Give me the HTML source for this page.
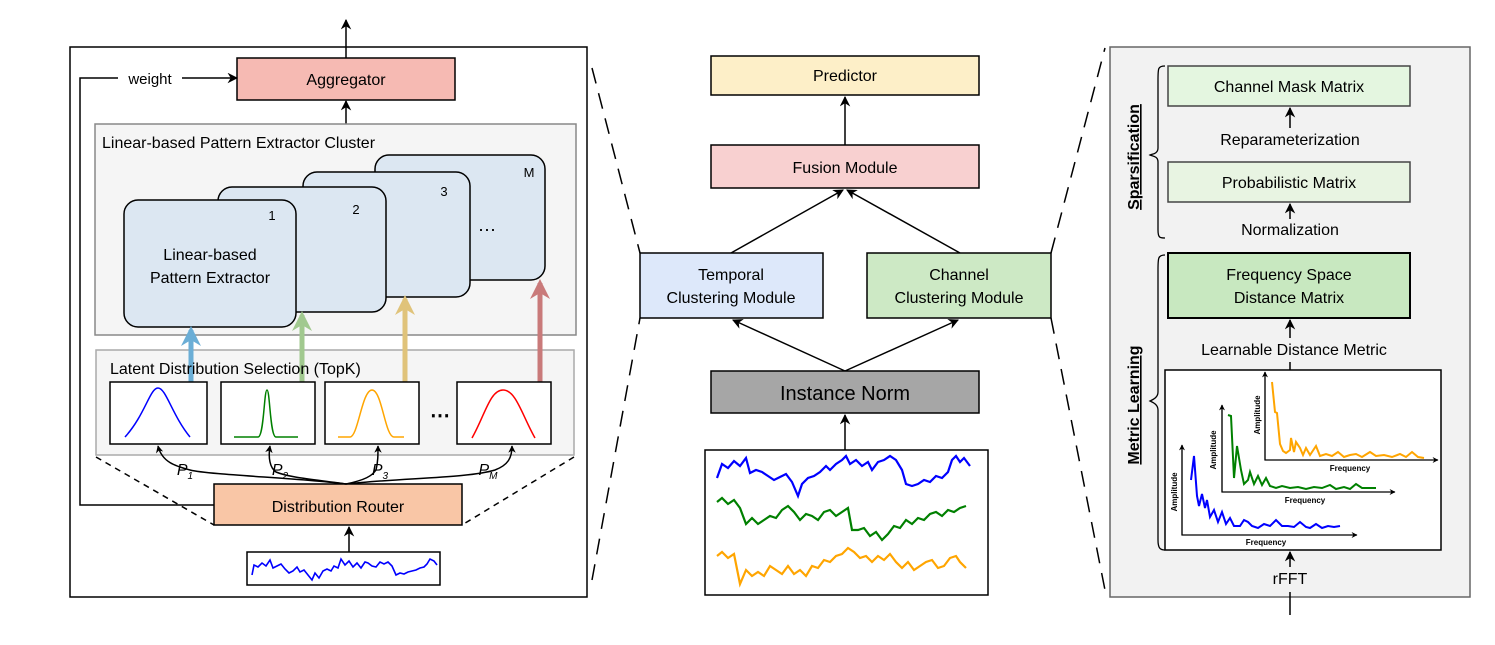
<!DOCTYPE html>
<html><head><style>body{margin:0;background:#fff}svg{display:block}text{font-family:"Liberation Sans",sans-serif}</style></head><body>
<svg width="1495" height="645" viewBox="0 0 1495 645" xmlns="http://www.w3.org/2000/svg">
<defs>
<marker id="a" viewBox="0 0 10 10" refX="9" refY="5" markerWidth="7" markerHeight="7" orient="auto-start-reverse"><path d="M0,0 L10,5 L0,10 L3,5z" fill="#000"/></marker>
<marker id="ab" viewBox="0 0 10 10" refX="8" refY="5" markerWidth="4" markerHeight="4" orient="auto"><path d="M0,0 L10,5 L0,10 L3,5z" fill="#6baed6"/></marker>
<marker id="ag" viewBox="0 0 10 10" refX="8" refY="5" markerWidth="4" markerHeight="4" orient="auto"><path d="M0,0 L10,5 L0,10 L3,5z" fill="#a1c98f"/></marker>
<marker id="ay" viewBox="0 0 10 10" refX="8" refY="5" markerWidth="4" markerHeight="4" orient="auto"><path d="M0,0 L10,5 L0,10 L3,5z" fill="#e0c37a"/></marker>
<marker id="ar" viewBox="0 0 10 10" refX="8" refY="5" markerWidth="4" markerHeight="4" orient="auto"><path d="M0,0 L10,5 L0,10 L3,5z" fill="#c97a7a"/></marker>
<marker id="sa" viewBox="0 0 10 10" refX="9" refY="5" markerWidth="5" markerHeight="5" orient="auto"><path d="M0,0 L10,5 L0,10 L3,5z" fill="#000"/></marker>
</defs>
<g stroke="#000" fill="none" stroke-width="1.5">
<rect x="70" y="47" width="517" height="550"/>
<line x1="346" y1="58" x2="346" y2="20" marker-end="url(#a)"/>
<rect x="237" y="58" width="218" height="42" fill="#f6bab3"/>
<polyline points="214,505 80,505 80,78 237,78" marker-end="url(#a)"/>
<rect x="118" y="68" width="64" height="20" fill="#fff" stroke="none"/>
<line x1="346" y1="124" x2="346" y2="101" marker-end="url(#a)"/>
<rect x="95" y="124" width="481" height="211" fill="#f5f5f5" stroke="#888"/>
<rect x="375" y="155" width="170" height="125" rx="14" fill="#dce7f2"/>
<rect x="303" y="172" width="167" height="125" rx="14" fill="#dce7f2"/>
<rect x="218" y="187" width="168" height="125" rx="14" fill="#dce7f2"/>
<rect x="124" y="200" width="172" height="127" rx="14" fill="#dce7f2"/>
<rect x="96" y="350" width="478" height="105" fill="#f5f5f5" stroke="#aaa"/>
<line x1="191" y1="382" x2="191" y2="330" stroke="#6baed6" stroke-width="5" marker-end="url(#ab)"/>
<line x1="302" y1="382" x2="302" y2="315" stroke="#a1c98f" stroke-width="5" marker-end="url(#ag)"/>
<line x1="405" y1="382" x2="405" y2="299" stroke="#e0c37a" stroke-width="5" marker-end="url(#ay)"/>
<line x1="540" y1="382" x2="540" y2="283" stroke="#c97a7a" stroke-width="5" marker-end="url(#ar)"/>
<rect x="110" y="382" width="97" height="62" fill="#fff"/>
<rect x="221" y="382" width="94" height="62" fill="#fff"/>
<rect x="325" y="382" width="94" height="62" fill="#fff"/>
<rect x="457" y="382" width="94" height="62" fill="#fff"/>
<path d="M125,437 C145,415 150,388 158,388 C166,388 172,415 190,437" stroke="#0000ff"/>
<path d="M234,437 L258,437 C264,437 264,390 267,390 C270,390 270,437 276,437 L298,437" stroke="#008000"/>
<path d="M338,437 L350,437 C358,437 362,390 372,390 C382,390 385,437 394,437 L404,437" stroke="#ffa500"/>
<path d="M472,438 C485,415 490,390 503,390 C516,390 522,415 535,438" stroke="#ff0000"/>
<path d="M96,457 L214,525 M574,457 L462,525" stroke-dasharray="6,5"/>
<rect x="214" y="484" width="248" height="41" fill="#f9c6a6"/>
<path d="M346,484 C300,478 210,475 190,470 C175,466 162,462 158,446" marker-end="url(#sa)"/>
<path d="M346,484 C320,480 290,478 276,472 C270,468 268,458 270,446" marker-end="url(#sa)"/>
<path d="M346,484 C365,480 372,476 376,470 C378,462 378,455 378,446" marker-end="url(#sa)"/>
<path d="M346,484 C400,478 470,478 495,470 C508,465 512,458 512,446" marker-end="url(#sa)"/>
<line x1="349" y1="552" x2="349" y2="527" marker-end="url(#a)"/>
<rect x="247" y="552" width="193" height="33" fill="#fff"/>
<polyline stroke="#0000ff" stroke-width="1.6" points="252,575 254,565 258,567 262,563 266,566 270,560 273,568 277,566 281,564 285,569 289,573 293,571 297,567 300,572 304,570 308,575 312,580 315,573 319,578 323,571 327,569 331,571 334,566 338,568 341,559 345,565 349,561 353,567 357,563 361,568 365,562 368,563 372,566 376,567 380,562 384,564 388,562 392,566 396,575 400,573 404,574 408,572 412,571 416,570 420,568 424,567 427,564 430,559 434,561 437,565"/>
<path d="M592,68 L640,253 M592,580 L640,318 M1051,253 L1105,48 M1051,318 L1105,590" stroke-dasharray="16,10"/>
<rect x="711" y="56" width="268" height="39" fill="#fdefc8"/>
<line x1="845" y1="145" x2="845" y2="97" marker-end="url(#a)"/>
<rect x="711" y="145" width="268" height="43" fill="#f8d0d0"/>
<line x1="731" y1="253" x2="843" y2="190" marker-end="url(#a)"/>
<line x1="960" y1="253" x2="847" y2="190" marker-end="url(#a)"/>
<rect x="640" y="253" width="183" height="65" fill="#dde8fa"/>
<rect x="867" y="253" width="184" height="65" fill="#cde9c5"/>
<line x1="845" y1="371" x2="733" y2="320" marker-end="url(#a)"/>
<line x1="845" y1="371" x2="958" y2="320" marker-end="url(#a)"/>
<rect x="711" y="371" width="268" height="42" fill="#a6a6a6"/>
<line x1="845" y1="450" x2="845" y2="415" marker-end="url(#a)"/>
<rect x="705" y="450" width="283" height="145" fill="#fff"/>
<polyline stroke="#0000ff" stroke-width="2.2" points="717,478 722,464 728,468 734,461 740,466 746,458 750,473 756,470 762,472 768,476 774,480 780,477 786,474 792,482 798,496 802,484 808,478 814,476 820,472 826,466 830,470 836,464 842,460 846,456 850,464 856,460 862,466 868,462 872,470 878,462 884,460 890,456 896,460 902,470 906,484 912,486 918,484 924,480 930,482 936,476 942,478 948,472 952,460 956,456 960,462 964,458 970,466"/>
<polyline stroke="#008000" stroke-width="2.2" points="717,502 722,498 728,504 734,500 740,508 746,524 752,518 758,524 764,520 770,516 776,518 782,510 788,506 794,512 800,520 806,514 812,516 818,520 824,512 830,510 836,516 842,512 848,508 852,530 858,530 864,528 870,536 876,532 882,540 888,534 894,526 900,528 906,520 912,524 918,518 924,520 930,514 936,512 942,516 948,510 954,512 960,508 966,506"/>
<polyline stroke="#ffa500" stroke-width="2.2" points="717,556 722,552 728,558 734,554 740,584 746,570 752,576 758,572 764,576 770,566 776,570 782,574 788,566 794,574 800,570 806,576 812,566 818,568 824,560 830,562 836,556 842,554 848,548 854,552 860,558 866,556 872,562 878,556 884,560 890,554 896,562 902,568 908,562 914,570 920,566 926,562 932,560 938,568 944,566 950,558 956,556 960,562 966,568"/>
<rect x="1110" y="47" width="360" height="550" fill="#f2f2f2" stroke="#666"/>
<rect x="1168" y="66" width="242" height="40" fill="#e4f6e0" stroke="#444"/>
<line x1="1290" y1="128" x2="1290" y2="108" marker-end="url(#a)"/>
<rect x="1168" y="162" width="242" height="40" fill="#e8f4e2" stroke="#444"/>
<line x1="1290" y1="219" x2="1290" y2="204" marker-end="url(#a)"/>
<rect x="1168" y="253" width="242" height="65" fill="#c8e8c0" stroke-width="2"/>
<line x1="1290" y1="338" x2="1290" y2="320" marker-end="url(#a)"/>
<line x1="1290" y1="370" x2="1290" y2="362"/>
<rect x="1165" y="370" width="276" height="180" fill="#fff"/>
<line x1="1290" y1="567" x2="1290" y2="552" marker-end="url(#a)"/>
<line x1="1290" y1="592" x2="1290" y2="615"/>
<path d="M1165,66 C1158,66 1158,68 1158,80 L1158,148 C1158,154 1152,154 1150,155 C1152,156 1158,156 1158,162 L1158,230 C1158,238 1160,238 1165,238" stroke-width="1.3"/>
<path d="M1165,255 C1158,255 1158,258 1158,270 L1158,392 C1158,398 1152,400 1150,401 C1152,402 1158,404 1158,410 L1158,540 C1158,548 1160,550 1165,550" stroke-width="1.3"/>
<g stroke-width="1.2">
<polyline points="1265,372 1265,460 1438,460" marker-end="url(#sa)"/>
<polyline points="1222,405 1222,492 1395,492" marker-end="url(#sa)"/>
<polyline points="1182,445 1182,535 1357,535" marker-end="url(#sa)"/>
<line x1="1265" y1="460" x2="1265" y2="372" marker-end="url(#sa)"/>
<line x1="1222" y1="492" x2="1222" y2="405" marker-end="url(#sa)"/>
<line x1="1182" y1="535" x2="1182" y2="445" marker-end="url(#sa)"/>
</g>
<polyline stroke="#ffa500" stroke-width="2" points="1272,382 1275,412 1277,413 1280,444 1283,451 1286,453 1290,450 1291,438 1294,452 1296,442 1300,448 1303,455 1306,448 1310,455 1316,446 1320,456 1326,454 1332,456 1338,452 1344,457 1350,455 1356,454 1362,457 1370,452 1376,456 1384,455 1392,457 1400,454 1406,457 1412,452 1418,457 1424,458"/>
<polyline stroke="#008000" stroke-width="2" points="1228,415 1231,416 1234,478 1237,446 1241,470 1244,484 1248,480 1250,472 1254,484 1258,476 1262,485 1266,478 1270,486 1276,488 1282,486 1290,488 1298,487 1306,489 1314,487 1322,488 1330,485 1336,489 1344,487 1350,489 1356,484 1362,488 1370,488 1376,488"/>
<polyline stroke="#0000ff" stroke-width="2" points="1191,480 1194,456 1197,496 1199,506 1202,494 1205,508 1207,500 1210,517 1214,510 1218,522 1222,512 1226,524 1230,518 1234,526 1240,526 1244,520 1248,522 1252,526 1258,528 1264,524 1270,526 1276,520 1282,526 1288,526 1294,527 1300,522 1306,527 1310,528 1316,524 1322,528 1328,526 1334,527 1340,526"/>
</g>
<g font-size="16" text-anchor="middle" fill="#000">
<text x="346" y="85">Aggregator</text>
<text x="150" y="84" font-size="15">weight</text>
<text x="102" y="148" text-anchor="start">Linear-based Pattern Extractor Cluster</text>
<text x="210" y="260">Linear-based</text>
<text x="210" y="283">Pattern Extractor</text>
<text x="272" y="220" font-size="13">1</text>
<text x="356" y="214" font-size="13">2</text>
<text x="444" y="196" font-size="13">3</text>
<text x="529" y="177" font-size="13">M</text>
<text x="487" y="236" font-size="18">⋯</text>
<text x="110" y="374" text-anchor="start">Latent Distribution Selection (TopK)</text>
<text x="440" y="422" font-size="20" font-weight="bold">⋯</text>
<g font-family="Liberation Serif" font-style="italic" font-size="16">
<text x="185" y="475">P<tspan font-size="10" dy="4">1</tspan></text>
<text x="280" y="475">P<tspan font-size="10" dy="4">2</tspan></text>
<text x="380" y="475">P<tspan font-size="10" dy="4">3</tspan></text>
<text x="488" y="475">P<tspan font-size="10" dy="4">M</tspan></text>
</g>
<text x="338" y="512">Distribution Router</text>
<text x="845" y="81">Predictor</text>
<text x="845" y="173">Fusion Module</text>
<text x="731" y="280">Temporal</text>
<text x="731" y="303">Clustering Module</text>
<text x="959" y="280">Channel</text>
<text x="959" y="303">Clustering Module</text>
<text x="845" y="400" font-size="20">Instance Norm</text>
<text x="1289" y="92">Channel Mask Matrix</text>
<text x="1290" y="145">Reparameterization</text>
<text x="1289" y="188">Probabilistic Matrix</text>
<text x="1290" y="235">Normalization</text>
<text x="1289" y="280">Frequency Space</text>
<text x="1289" y="303">Distance Matrix</text>
<text x="1294" y="355">Learnable Distance Metric</text>
<text x="1290" y="584">rFFT</text>
<g font-weight="bold" text-decoration="underline">
<text transform="translate(1139,157) rotate(-90)">Sparsification</text>
<text transform="translate(1139,405) rotate(-90)">Metric  Learning</text>
</g>
<g font-size="8" font-weight="bold">
<text x="1350" y="471">Frequency</text>
<text x="1305" y="503">Frequency</text>
<text x="1266" y="545">Frequency</text>
<text transform="translate(1260,415) rotate(-90)">Amplitude</text>
<text transform="translate(1216,450) rotate(-90)">Amplitude</text>
<text transform="translate(1177,492) rotate(-90)">Amplitude</text>
</g>
</g>
</svg>
</body></html>
